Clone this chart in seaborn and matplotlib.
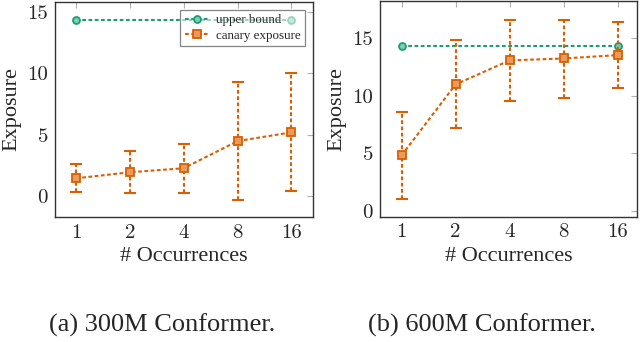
import matplotlib
matplotlib.use("Agg")
import matplotlib.pyplot as plt
import seaborn as sns
import pandas as pd

# occurrences of the canary
occurrences = [1, 2, 4, 8, 16]
tick_labels = ["1", "2", "4", "8", "16"]

# 300M Conformer
upper_300 = [14.3, 14.3]
exp_300 = [1.45, 1.94, 2.27, 4.48, 5.19]
lo_300 = [0.35, 0.22, 0.27, -0.3, 0.41]
hi_300 = [2.6, 3.69, 4.26, 9.26, 10.0]

# 600M Conformer
upper_600 = [14.3, 14.3]
exp_600 = [4.82, 10.99, 13.08, 13.25, 13.54]
lo_600 = [1.04, 7.19, 9.51, 9.8, 10.64]
hi_600 = [8.56, 14.84, 16.58, 16.64, 16.4]

captions = ["(a) 300M Conformer.", "(b) 600M Conformer."]

sns.set_theme(style="white")
plt.rcParams["font.family"] = ["Liberation Serif", "DejaVu Serif"]
green, orange = sns.color_palette("Dark2")[:2]
DASH = (0, (1.8, 1.2))

fig = plt.figure(figsize=(6.4, 3.42), dpi=100)
ax1 = fig.add_axes([55 / 640, 1 - 217 / 342, 258 / 640, 215 / 342])
ax2 = fig.add_axes([380 / 640, 1 - 216.5 / 342, 257 / 640, 215.5 / 342])


def draw(ax, upper, exp, lo, hi, legend):
    ub = pd.DataFrame({"x": [occurrences[0], occurrences[-1]], "y": upper})
    ce = pd.DataFrame({"x": occurrences, "y": exp})
    sns.lineplot(data=ub, x="x", y="y", ax=ax, color=green, linestyle=DASH, lw=1.5,
                 marker="o", ms=5, mfc="#7fcdb4", mec=green, mew=1.3,
                 label="upper bound")
    sns.lineplot(data=ce, x="x", y="y", ax=ax, color=orange, linestyle=DASH, lw=1.5,
                 marker="s", ms=6, mfc="#ec9a5c", mec=orange, mew=1.3,
                 label="canary exposure", zorder=3)
    yerr = [[e - l for e, l in zip(exp, lo)], [h - e for e, h in zip(exp, hi)]]
    eb = ax.errorbar(occurrences, exp, yerr=yerr, fmt="none", ecolor=orange,
                     elinewidth=1.5, capsize=4, capthick=1.5)
    for c in eb[2]:
        c.set_linestyle(DASH)
    ax.set_xscale("log", base=2)
    ax.set_xticks(occurrences)
    ax.set_xticklabels(tick_labels)
    ax.minorticks_off()
    ax.set_xlabel("# Occurrences", fontsize=16)
    ax.set_ylabel("Exposure", fontsize=16, labelpad=4)
    ax.set_yticks([0, 5, 10, 15])
    ax.tick_params(axis="both", which="both", direction="in", length=4, width=0.8,
                   color="#b0b0b0", top=True, right=True, labelsize=15, pad=5)
    for lab in ax.get_xticklabels() + ax.get_yticklabels():
        lab.set_family(["cmr10", "DejaVu Serif"])
    for s in ax.spines.values():
        s.set_color("#333333")
        s.set_linewidth(1.0)
    if legend:
        leg = ax.legend(loc="upper right", fontsize=9.4, frameon=True, framealpha=0.55,
                        fancybox=False, edgecolor="#222222", borderpad=0.35,
                        handlelength=1.9, handletextpad=0.5, labelspacing=0.25,
                        borderaxespad=0.0, bbox_to_anchor=(0.97, 0.965))
        leg.get_frame().set_linewidth(0.9)
    else:
        ax.get_legend().remove()


draw(ax1, upper_300, exp_300, lo_300, hi_300, True)
ax1.set_ylim(-1.7, 15.8)
ax1.set_xlim(2 ** -0.39, 2 ** 4.4)

draw(ax2, upper_600, exp_600, lo_600, hi_600, False)
ax2.set_ylim(-0.5, 18.25)
ax2.set_xlim(2 ** -0.4, 2 ** 4.36)

fig.text(162 / 640, 1 - 325 / 342, captions[0], ha="center", va="center", fontsize=19)
fig.text(482 / 640, 1 - 325 / 342, captions[1], ha="center", va="center", fontsize=19)

fig.savefig("out.png", dpi=100)
